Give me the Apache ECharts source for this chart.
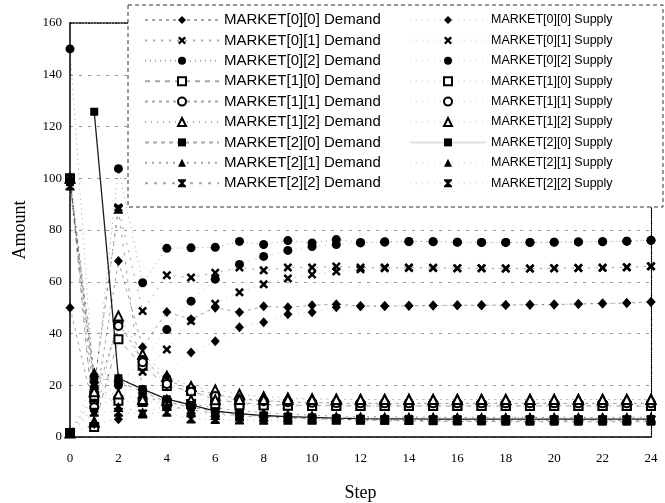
<!DOCTYPE html>
<html><head><meta charset="utf-8">
<script src="https://cdn.jsdelivr.net/npm/echarts@6/dist/echarts.min.js"></script>
<style>html,body{margin:0;padding:0;background:#fff}#c{width:665px;height:503px}</style>
</head><body><div id="c"></div>
<script>
const steps = [0,1,2,3,4,5,6,7,8,9,10,11,12,13,14,15,16,17,18,19,20,21,22,23,24];

const m00Demand = [50, 10, 68, 34.7, 48.3, 45.5, 50, 48.2, 50.5, 50.1, 50.9, 51.3, 50.6, 50.6, 50.7, 50.8, 50.9, 50.9, 51.0, 51.1, 51.2, 51.4, 51.6, 51.8, 52.2];
const m01Demand = [100, 20, 88.7, 48.7, 62.5, 61.6, 63.5, 65.5, 64.4, 65.5, 65.5, 65.9, 65.5, 65.5, 65.5, 65.4, 65.2, 65.2, 65.1, 65.1, 65.2, 65.3, 65.4, 65.6, 66];
const m02Demand = [150, 17, 103.7, 59.6, 72.9, 73.1, 73.3, 75.6, 74.4, 75.9, 75.0, 76.3, 75.2, 75.5, 75.6, 75.5, 75.3, 75.2, 75.2, 75.2, 75.3, 75.4, 75.5, 75.7, 76];
const m10Demand = [100, 3.9, 37.8, 27.5, 19.7, 17.8, 14.5, 13.2, 12.6, 12.3, 12.2, 12.1, 12, 12, 12, 12, 12, 12, 12, 12, 12, 12, 12, 12, 12];
const m11Demand = [100, 13.5, 44.2, 30, 22, 18.5, 16.5, 14.8, 14, 13.6, 13.3, 13.1, 13, 13, 13, 13, 13, 13, 13, 13, 13, 13, 13, 13, 13];
const m12Demand = [100, 5.8, 46.8, 32, 23.5, 19.5, 18.2, 16.5, 15.6, 15.1, 14.8, 14.6, 14.5, 14.5, 14.5, 14.5, 14.5, 14.5, 14.5, 14.5, 14.5, 14.5, 14.5, 14.5, 14.5];
const m20Demand = [98.5, 23, 21.5, 17.5, 13.5, 11.5, 10, 9, 8.2, 7.6, 7.2, 6.9, 6.6, 6.4, 6.2, 6.1, 6.0, 6.0, 5.9, 5.9, 5.9, 5.9, 5.9, 5.9, 5.9];
const m21Demand = [100.5, 25, 23, 18.5, 14.6, 12.8, 11.2, 10.2, 9.4, 8.8, 8.4, 8.1, 7.9, 7.8, 7.7, 7.7, 7.6, 7.6, 7.6, 7.6, 7.6, 7.6, 7.6, 7.6, 7.6];
const m22Demand = [97, 19.8, 88, 17, 12, 10.5, 9.2, 8.3, 7.7, 7.3, 7, 6.8, 6.7, 6.6, 6.5, 6.5, 6.5, 6.5, 6.5, 6.5, 6.5, 6.5, 6.5, 6.5, 6.5];

const m00Supply = [1.5, 5, 6.9, 14, 23.5, 32.7, 37, 42.4, 44.3, 47.4, 48.2, 50.1, 50.5, 50.6, 50.7, 50.8, 50.9, 50.9, 51.0, 51.1, 51.2, 51.4, 51.6, 51.8, 52.2];
const m01Supply = [1.5, 12, 15, 25.2, 33.8, 44.8, 51.5, 55.9, 59, 61.3, 62.8, 64, 64.8, 65.2, 65.3, 65.3, 65.2, 65.2, 65.1, 65.1, 65.2, 65.3, 65.4, 65.6, 66];
const m02Supply = [1.5, 15, 20, 30, 41.5, 52.5, 61, 66.7, 69.8, 72.1, 73.6, 74.4, 75, 75.3, 75.5, 75.5, 75.3, 75.2, 75.2, 75.2, 75.3, 75.4, 75.5, 75.7, 76];
const m10Supply = [1.5, 15.9, 14, 13.5, 13.2, 12.8, 12.5, 12.3, 12.2, 12.1, 12, 12, 12, 12, 12, 12, 12, 12, 12, 12, 12, 12, 12, 12, 12];
const m11Supply = [1.5, 11.5, 42.9, 28.9, 20.5, 17.5, 15.8, 14.5, 13.8, 13.4, 13.2, 13.1, 13, 13, 13, 13, 13, 13, 13, 13, 13, 13, 13, 13, 13];
const m12Supply = [1.5, 17.5, 16.6, 14.5, 14.2, 14.3, 14.4, 14.5, 14.5, 14.5, 14.5, 14.5, 14.5, 14.5, 14.5, 14.5, 14.5, 14.5, 14.5, 14.5, 14.5, 14.5, 14.5, 14.5, 14.5];
const m20Supply = [null, 125.7, 22.7, 18.5, 14.6, 12.4, 10, 9, 8.3, 7.9, 7.6, 7.3, 7.1, 7.0, 7.0, 6.9, 6.9, 6.9, 6.9, 6.9, 6.9, 6.9, 6.9, 6.9, 6.9];
const m21Supply = [1.5, 21, 11.6, 9.6, 12, 9.6, 8.5, 8, 7.8, 7.7, 7.6, 7.6, 7.6, 7.6, 7.6, 7.6, 7.6, 7.6, 7.6, 7.6, 7.6, 7.6, 7.6, 7.6, 7.6];
const m22Supply = [1.5, 9.6, 9.6, 8.9, 9.6, 7, 6.8, 6.6, 6.5, 6.5, 6.5, 6.5, 6.5, 6.5, 6.5, 6.5, 6.5, 6.5, 6.5, 6.5, 6.5, 6.5, 6.5, 6.5, 6.5];

const marketNames = ['MARKET[0][0]','MARKET[0][1]','MARKET[0][2]','MARKET[1][0]','MARKET[1][1]','MARKET[1][2]','MARKET[2][0]','MARKET[2][1]','MARKET[2][2]'];
const demandValues = [m00Demand, m01Demand, m02Demand, m10Demand, m11Demand, m12Demand, m20Demand, m21Demand, m22Demand];
const supplyValues = [m00Supply, m01Supply, m02Supply, m10Supply, m11Supply, m12Supply, m20Supply, m21Supply, m22Supply];

const X_PATH = 'path://M0,2 L2,0 L5,3 L8,0 L10,2 L7,5 L10,8 L8,10 L5,7 L2,10 L0,8 L3,5 Z';
const STAR_PATH = 'path://M0,0 L10,0 L10,1.8 L6.6,5 L10,8.2 L10,10 L0,10 L0,8.2 L3.4,5 L0,1.8 Z';
const markerSymbols = ['diamond', X_PATH, 'circle', 'emptyRect', 'emptyCircle', 'emptyTriangle', 'rect', 'triangle', STAR_PATH];
const markerSizes = [[9,10], 9, 9, 8, 8, 9, 8, 10, 9];
const demandDash = [[3,4],[2,6],[1,4],[5,5],[3,4],[1,5],[4,4],[2,5],[3,6]];

const series = [];
function addSeries(name, values, idx, isSupply) {
  const solid = isSupply && idx === 6;
  series.push({
    name: name,
    type: 'line',
    data: steps.map((s, i) => [s, values[i]]),
    symbol: markerSymbols[idx],
    symbolSize: markerSizes[idx],
    showAllSymbol: true,
    connectNulls: false,
    animation: false,
    lineStyle: solid ? {color:'#000', width:1.3, type:'solid', opacity:0.9}
      : {color:'#000', width:0.9, type: isSupply ? [1,5] : demandDash[idx], opacity: isSupply ? 0.3 : 0.42},
    itemStyle: {color:'#000', borderColor:'#000', borderWidth: markerSymbols[idx].indexOf('empty') === 0 ? 2 : 0},
    emphasis: {disabled: true}
  });
}
marketNames.forEach((m, i) => addSeries(m + ' Demand', demandValues[i], i, false));
marketNames.forEach((m, i) => addSeries(m + ' Supply', supplyValues[i], i, true));

const option = {
  backgroundColor: '#fff',
  animation: false,
  grid: {left:70, right:14, top:23, bottom:66, containLabel:false, outerBoundsMode:'none'},
  xAxis: [{
    type:'value', min:0, max:24, interval:2,
    axisLine:{show:true, onZero:false, lineStyle:{color:'#000', width:1.5}},
    axisTick:{show:false},
    axisLabel:{margin:15, fontFamily:'Liberation Serif', fontSize:13, color:'#000'},
    splitLine:{show:false},
    name:'Step', nameLocation:'middle', nameGap:47,
    nameTextStyle:{fontFamily:'Liberation Serif', fontSize:18, color:'#000'}
  },{
    type:'value', position:'top', min:0, max:24, interval:2,
    axisLine:{show:true, onZero:false, lineStyle:{color:'#000', width:1.5, type:'dotted'}},
    axisTick:{show:false}, axisLabel:{show:false}, splitLine:{show:false}
  }],
  yAxis: [{
    type:'value', min:0, max:160, interval:20,
    axisLine:{show:true, onZero:false, lineStyle:{color:'#000', width:1.5}},
    axisTick:{show:false},
    axisLabel:{margin:8, fontFamily:'Liberation Serif', fontSize:13, color:'#000'},
    splitLine:{show:true, lineStyle:{type:[3,6], color:'#999', width:1}},
    name:'Amount', nameLocation:'middle', nameGap:41, nameRotate:90,
    nameTextStyle:{fontFamily:'Liberation Serif', fontSize:18, color:'#000'}
  },{
    type:'value', position:'right', min:0, max:160, interval:20,
    axisLine:{show:true, onZero:false, lineStyle:{color:'#000', width:1.2, type:'dotted'}},
    axisTick:{show:false}, axisLabel:{show:false}, splitLine:{show:false}
  }],
  legend: [{
    data: marketNames.map(m => m + ' Demand'),
    orient:'vertical', left:144, top:12, padding:0,
    itemWidth:74, itemHeight:10, itemGap:4.4,
    selectedMode:false,
    lineStyle:{opacity:0.35},
    textStyle:{fontFamily:'Liberation Sans', fontSize:15, lineHeight:16, color:'#000'}
  },{
    data: marketNames.map(m => m + ' Supply'),
    orient:'vertical', left:409, top:12, padding:0,
    itemWidth:76, itemHeight:10, itemGap:4.4,
    selectedMode:false,
    lineStyle:{opacity:0.12},
    textStyle:{fontFamily:'Liberation Sans', fontSize:12.5, lineHeight:16, color:'#000'}
  }],
  graphic: [{
    type:'rect', z:3, silent:true,
    shape:{x:128, y:5, width:535, height:202},
    style:{fill:'#fff', stroke:'#333', lineWidth:1, lineDash:[4,3]}
  }],
  series: series
};
const chart = echarts.init(document.getElementById('c'), null, {renderer:'canvas'});
chart.setOption(option);
</script></body></html>
